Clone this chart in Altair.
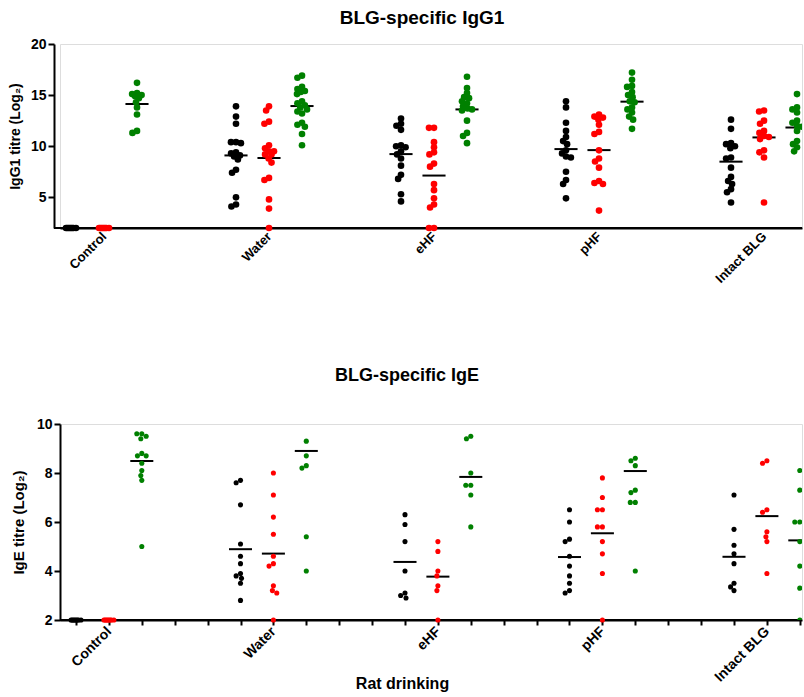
import altair as alt
import pandas as pd
import numpy as np

groups = ["Control", "Water", "eHF", "pHF", "Intact BLG"]
series = ["black", "red", "green"]

# ---------------- IgG1 panel values (log2 titre) ----------------
igg1_control_black = [2, 2, 2, 2, 2, 2, 2, 2]
igg1_control_red = [2, 2, 2, 2, 2, 2, 2, 2]
igg1_control_green = [16.2, 15.2, 15.1, 15.0, 14.9, 14.7, 14.3, 13.8, 13.1, 11.5, 11.3]
igg1_water_black = [13.9, 12.9, 12.2, 10.4, 10.4, 10.3, 9.4, 9.3, 9.1, 9.0, 8.7, 7.7, 7.4, 5.0, 4.3, 4.1]
igg1_water_red = [13.9, 13.5, 12.4, 12.2, 10.1, 9.8, 9.5, 9.5, 9.2, 9.2, 8.8, 8.4, 6.9, 6.7, 4.8, 3.9, 2.0]
igg1_water_green = [16.9, 16.7, 15.8, 15.6, 15.4, 15.3, 15.1, 14.4, 14.2, 14.0, 13.8, 13.6, 13.4, 13.2, 12.3, 12.1, 11.9, 11.2, 10.1]
igg1_ehf_black = [12.7, 12.2, 12.0, 11.6, 10.1, 10.0, 9.9, 9.5, 9.2, 8.8, 8.1, 7.2, 6.8, 5.3, 4.6]
igg1_ehf_red = [11.8, 11.8, 10.4, 9.9, 9.4, 9.2, 8.3, 8.0, 6.3, 5.7, 4.9, 4.3, 4.0, 2.0, 2.0]
igg1_ehf_green = [16.8, 15.7, 15.2, 14.8, 14.7, 14.4, 14.2, 13.9, 13.7, 13.6, 13.5, 12.5, 11.3, 11.0, 10.3]
igg1_phf_black = [14.4, 13.8, 12.3, 11.5, 10.9, 10.5, 10.2, 9.6, 9.3, 9.0, 8.9, 7.5, 6.7, 6.3, 4.9]
igg1_phf_red = [13.1, 12.9, 12.8, 12.6, 12.1, 11.4, 11.2, 9.6, 8.8, 8.5, 7.9, 6.6, 6.4, 6.3, 3.7]
igg1_phf_green = [17.2, 16.5, 15.9, 15.8, 15.3, 15.0, 14.8, 14.4, 14.3, 13.8, 13.6, 13.3, 12.9, 12.6, 11.7]
igg1_intact_black = [12.6, 11.7, 10.3, 10.2, 10.0, 9.8, 8.9, 8.8, 7.9, 7.0, 6.6, 6.3, 5.8, 5.5, 4.5]
igg1_intact_red = [13.5, 13.4, 12.5, 12.2, 11.5, 11.3, 11.0, 10.9, 10.7, 9.6, 9.4, 8.9, 4.5]
igg1_intact_green = [15.1, 13.8, 13.6, 13.3, 12.5, 12.3, 12.0, 11.9, 11.5, 10.5, 10.2, 9.9, 9.5]
igg1_line_black = [2.0, 9.1, 9.23, 9.72, 8.49]
igg1_line_red = [2.0, 8.85, 7.13, 9.62, 10.86]
igg1_line_green = [14.13, 13.93, 13.6, 14.36, 11.83]

# ---------------- IgE panel values (log2 titre) ----------------
ige_control_black = [2, 2, 2, 2, 2, 2, 2, 2]
ige_control_red = [2, 2, 2, 2, 2, 2, 2, 2]
ige_control_green = [9.6, 9.6, 9.5, 9.4, 8.8, 8.7, 8.7, 8.4, 8.1, 7.9, 7.7, 5.0]
ige_water_black = [7.7, 7.6, 6.7, 5.1, 4.6, 4.3, 3.9, 3.8, 3.7, 3.5, 2.8]
ige_water_red = [8.0, 7.1, 6.2, 5.5, 4.6, 4.3, 4.2, 3.4, 3.2, 3.1, 2.0]
ige_water_green = [9.3, 8.7, 8.3, 8.2, 5.4, 4.0]
ige_ehf_black = [6.3, 5.9, 5.2, 4.0, 3.1, 3.0, 2.9]
ige_ehf_red = [5.2, 4.8, 4.0, 3.8, 3.4, 3.2, 2.0]
ige_ehf_green = [9.5, 9.4, 8.0, 7.5, 7.5, 7.1, 5.8]
ige_phf_black = [6.5, 6.0, 5.3, 5.2, 4.6, 4.2, 3.8, 3.5, 3.2, 3.1]
ige_phf_red = [7.8, 7.0, 6.5, 6.5, 5.8, 5.8, 5.2, 4.7, 3.9, 2.0]
ige_phf_green = [8.6, 8.5, 8.3, 7.3, 7.2, 6.8, 6.8, 4.0]
ige_intact_black = [7.1, 5.7, 5.05, 4.7, 4.3, 3.5, 3.35, 3.2]
ige_intact_red = [8.5, 8.4, 6.5, 6.4, 5.6, 5.4, 5.2, 3.9]
ige_intact_green = [8.1, 7.3, 6.0, 6.0, 5.2, 4.2, 3.3, 2.0]
ige_line_black = [2.0, 4.89, 4.37, 4.57, 4.58]
ige_line_red = [2.0, 4.71, 3.77, 5.54, 6.24]
ige_line_green = [8.49, 8.9, 7.84, 8.08, 5.25]

igg1_ticks = [5, 10, 15, 20]
ige_ticks = [2, 4, 6, 8, 10]

igg1_sets = [
    [igg1_control_black, igg1_control_red, igg1_control_green],
    [igg1_water_black, igg1_water_red, igg1_water_green],
    [igg1_ehf_black, igg1_ehf_red, igg1_ehf_green],
    [igg1_phf_black, igg1_phf_red, igg1_phf_green],
    [igg1_intact_black, igg1_intact_red, igg1_intact_green],
]
ige_sets = [
    [ige_control_black, ige_control_red, ige_control_green],
    [ige_water_black, ige_water_red, ige_water_green],
    [ige_ehf_black, ige_ehf_red, ige_ehf_green],
    [ige_phf_black, ige_phf_red, ige_phf_green],
    [ige_intact_black, ige_intact_red, ige_intact_green],
]

FONT = "Liberation Sans"
W = 742
SLOTS_PER_GROUP = 5


def swarm(vals, ppu, d, maxoff):
    """Beeswarm offsets (pixels) so dots do not overlap much."""
    placed, offs = [], []
    for v in vals:
        y = v * ppu
        intervals = []
        for py, px in placed:
            dy = abs(py - y)
            if dy < d:
                w = (d * d - dy * dy) ** 0.5
                intervals.append((px - w, px + w))
        cands = [0.0] + [a for iv in intervals for a in iv]
        cands = [c for c in cands if abs(c) <= maxoff + 1e-9]
        valid = [c for c in cands
                 if all(not (a + 1e-6 < c < b - 1e-6) for a, b in intervals)]
        if valid:
            c = min(valid, key=lambda c: (abs(c), c))
        else:
            grid = np.linspace(-maxoff, maxoff, 17)
            c = max(grid, key=lambda g: min((g - px) ** 2 + (py - y) ** 2 for py, px in placed))
        placed.append((y, float(c)))
        offs.append(float(c))
    return offs


def make_points(sets, ppu, px_slot, d, maxoff):
    rows = []
    for gi, g in enumerate(groups):
        for si, s in enumerate(series):
            vals = sets[gi][si]
            slot = gi * SLOTS_PER_GROUP + si
            offs = swarm(vals, ppu, d, maxoff)
            for v, o in zip(vals, offs):
                rows.append({"group": g, "series": s, "value": v, "xpos": slot + o / px_slot})
    return pd.DataFrame(rows)


def make_lines(lines, half):
    rows = []
    for si, s in enumerate(series):
        for gi, g in enumerate(groups):
            slot = gi * SLOTS_PER_GROUP + si
            rows.append({"group": g, "series": s, "value": lines[si][gi],
                         "x1": slot - half, "x2": slot + half})
    return pd.DataFrame(rows)


label_slots = [gi * SLOTS_PER_GROUP + 1 for gi in range(len(groups))]
all_slots = list(range(0, SLOTS_PER_GROUP * len(groups) - 2))
label_expr = " : ".join(
    f"datum.value == {s} ? '{g}'" for s, g in zip(label_slots, groups)) + " : ''"


def panel(sets, lines, title, ytitle, ydom, yticks, height, px_slot, first_px, colors,
          dot_size, d, maxoff, yoffset, xticks, xtitle, f):
    ppu = height / (ydom[1] - ydom[0])
    pts = make_points(sets, ppu, px_slot, d, maxoff)
    lns = make_lines(lines, 0.35)
    x0 = -first_px / px_slot
    x1 = x0 + W / px_slot
    radius = (dot_size / np.pi) ** 0.5
    px_x = (pts["xpos"] - x0) * px_slot
    edge = (px_x + radius) > (W - 0.5)
    pts_in = pts[~edge]
    pts_edge = pts[edge]

    xscale = alt.Scale(domain=[x0, x1], nice=False, zero=False)
    yscale = alt.Scale(domain=ydom, nice=False, zero=False)
    cscale = alt.Scale(domain=series, range=colors)

    label_kw = dict(
        orient="bottom", values=label_slots,
        labelExpr=label_expr, labelAngle=-45, labelAlign="right", labelBaseline="middle",
        labelFont=FONT, labelFontWeight="bold", labelFontSize=f["xlab"], labelColor="black",
        labelPadding=f["xlabpad"], labelOverlap=False, labelBound=False, labelFlush=False,
        ticks=False, domain=not xticks, domainColor="black", domainWidth=2, grid=False,
        titleFont=FONT, titleFontSize=f["xtitle"], titleFontWeight="bold",
        titleColor="black")
    if xtitle:
        label_kw.update(title=xtitle, titleY=f["xtitley"], titleBaseline="middle",
                        titleAnchor="middle", titleX=f["xtitlex"], titleAlign="center")
    else:
        label_kw.update(title=None)
    label_axis = alt.Axis(**label_kw)
    if xticks:
        tick_axis = alt.Axis(
            orient="bottom", values=all_slots, labels=False, ticks=True, tickSize=5,
            tickWidth=2, tickColor="black", domainColor="black", domainWidth=2,
            grid=False, title=None)
    else:
        tick_axis = label_axis
    yaxis = alt.Axis(
        values=yticks, labelFont=FONT, labelFontWeight="bold", labelFontSize=f["ylab"],
        labelColor="black", labelPadding=2, tickSize=6, tickWidth=2, tickColor="black",
        domainColor="black", domainWidth=2, grid=False, offset=yoffset,
        title=ytitle, titleFont=FONT, titleFontSize=f["ytitle"], titleFontWeight="bold",
        titleColor="black", titlePadding=f["ytitlepad"])

    base_rule = alt.Chart(pd.DataFrame({"k": [0]})).mark_rule(
        color="black", strokeWidth=2).encode(
        x=alt.value(-yoffset), x2=alt.value(W), y=alt.value(height))

    points = alt.Chart(pts_in).mark_circle(size=dot_size, opacity=1).encode(
        x=alt.X("xpos:Q", scale=xscale, axis=label_axis),
        y=alt.Y("value:Q", scale=yscale, axis=yaxis),
        color=alt.Color("series:N", scale=cscale, legend=None),
    )
    if xticks:
        edge_x = alt.X("xpos:Q", scale=xscale, axis=None)
    else:
        edge_x = alt.X("xpos:Q", scale=xscale, axis=label_axis)
    points_edge = alt.Chart(pts_edge).mark_circle(size=dot_size, opacity=1, clip=True).encode(
        x=edge_x,
        y=alt.Y("value:Q", scale=yscale, axis=yaxis),
        color=alt.Color("series:N", scale=cscale, legend=None),
    )
    means = alt.Chart(lns).mark_rule(color="black", strokeWidth=2, clip=True).encode(
        x=alt.X("x1:Q", scale=xscale, axis=tick_axis), x2="x2:Q",
        y=alt.Y("value:Q", scale=yscale, axis=yaxis),
    )
    layered = alt.layer(base_rule, means, points, points_edge)
    if xticks:
        layered = layered.resolve_axis(x="independent")
    return layered.properties(
        width=W, height=height,
        title=alt.TitleParams(title, font=FONT, fontSize=f["title"], fontWeight="bold",
                              color="black", anchor="middle", offset=f["titleoff"],
                              dx=f["titledx"]),
    )


top = panel(igg1_sets, [igg1_line_black, igg1_line_red, igg1_line_green],
            "BLG-specific IgG1", "IgG1 titre (Log₂)", [2, 20], igg1_ticks, 184,
            33.0, 11, ["#000000", "#ff0000", "#008000"], 44, 5.0, 5.0, 6, False, None,
            {"xlab": 13, "xlabpad": 6, "xtitle": 14, "ylab": 14,
             "ytitle": 14, "ytitlepad": 8, "title": 19, "titleoff": 9, "titledx": -9})

bottom = panel(ige_sets, [ige_line_black, ige_line_red, ige_line_green],
               "BLG-specific IgE", "IgE titre (Log₂)", [2, 10], ige_ticks, 196,
               32.9, 16, ["#000000", "#e8191f", "#1e8c2a"], 26, 5.0, 5.0, 0, True, "Rat drinking",
               {"xlab": 14, "xlabpad": 9, "xtitle": 16, "xtitley": 63, "xtitlex": 342,
                "ylab": 14, "ytitle": 15, "ytitlepad": 10, "title": 18, "titleoff": 32,
                "titledx": -24})

chart = alt.vconcat(top, bottom, spacing=196, bounds="flush").properties(
    padding={"left": 7, "top": 8, "right": 0, "bottom": 0}
).configure_view(stroke=None).configure(font=FONT)

chart.save("out.html", embed_options={"renderer": "svg", "actions": False})
